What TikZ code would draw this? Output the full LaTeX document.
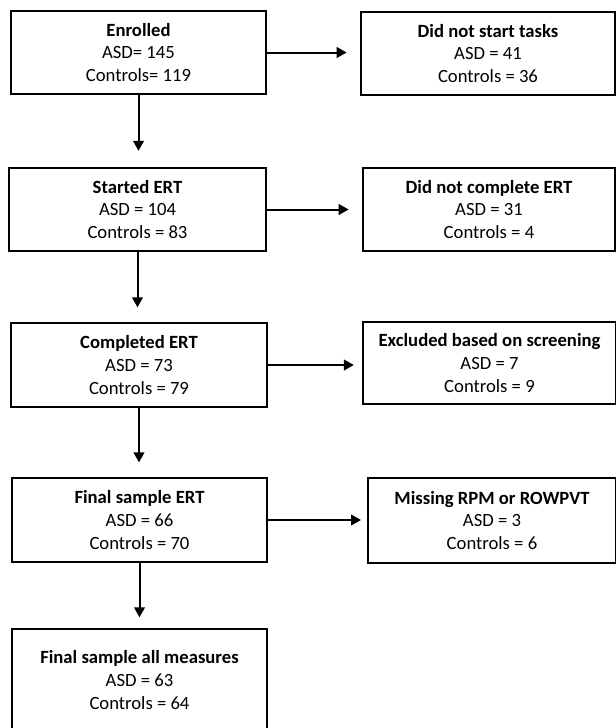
\documentclass[tikz,border=0pt]{standalone}
\usepackage{fontspec}
\setmainfont{Carlito}
\usetikzlibrary{positioning,arrows.meta}

\begin{document}
\begin{tikzpicture}[x=0.75pt, y=-0.75pt,
  flowbox/.style={draw=black, line width=1.5pt, fill=white, align=center, inner sep=0pt,
    font=\fontsize{14}{17}\selectfont, minimum height=62.5pt},
  arrowstyle/.style={-{Triangle[length=7.5pt, width=8pt]}, line width=1.5pt},
]
\clip (0,0) rectangle (616,728);

% ===================================================================
% LEFT COLUMN: main flow
% ===================================================================
\node[flowbox, minimum width=191pt] (enrolled) at (138.5, 52.5)
  {\textbf{Enrolled}\\ASD= 145\\Controls= 119};
\node[flowbox, minimum width=193pt] (started) at (137.5, 209.5)
  {\textbf{Started ERT}\\ASD = 104\\Controls = 83};
\node[flowbox, minimum width=192pt, minimum height=63pt] (completed) at (139, 365)
  {\textbf{Completed ERT}\\ASD = 73\\Controls = 79};
\node[flowbox, minimum width=191pt, minimum height=63pt] (finalert) at (139.5, 520)
  {\textbf{Final sample ERT}\\ASD = 66\\Controls = 70};
\node[flowbox, minimum width=191pt, minimum height=76.5pt] (finalall) at (139.5, 680)
  {\textbf{Final sample all measures}\\ASD = 63\\Controls = 64};

% ===================================================================
% RIGHT COLUMN: exclusions
% ===================================================================
\node[flowbox, minimum width=190.5pt] (nostart) at (488, 53.5)
  {\textbf{Did not start tasks}\\ASD = 41\\Controls = 36};
\node[flowbox, minimum width=189pt] (nocomplete) at (489, 209.5)
  {\textbf{Did not complete ERT}\\ASD = 31\\Controls = 4};
\node[flowbox, minimum width=190pt, minimum height=61.5pt] (excluded) at (489.5, 363)
  {\textbf{Excluded based on screening}\\ASD = 7\\Controls = 9};
\node[flowbox, minimum width=186pt, minimum height=64pt] (missing) at (492, 520.5)
  {\textbf{Missing RPM or ROWPVT}\\ASD = 3\\Controls = 6};

% Arrows down
\draw[arrowstyle, shorten >=12pt] (enrolled.south) -- (enrolled.south |- started.north);
\draw[arrowstyle, shorten >=11pt] (started.south) -- (started.south |- completed.north);
\draw[arrowstyle, shorten >=11pt] (completed.south) -- (completed.south |- finalert.north);
\draw[arrowstyle, shorten >=8pt] (finalert.south) -- (finalert.south |- finalall.north);

% Arrows right
\draw[arrowstyle, shorten >=10pt] (enrolled.east) -- (enrolled.east -| nostart.west);
\draw[arrowstyle, shorten >=10pt] (started.east) -- (started.east -| nocomplete.west);
\draw[arrowstyle, shorten >=6pt] (completed.east) -- (completed.east -| excluded.west);
\draw[arrowstyle, shorten >=4.5pt] (finalert.east) -- (finalert.east -| missing.west);

\end{tikzpicture}
\end{document}
